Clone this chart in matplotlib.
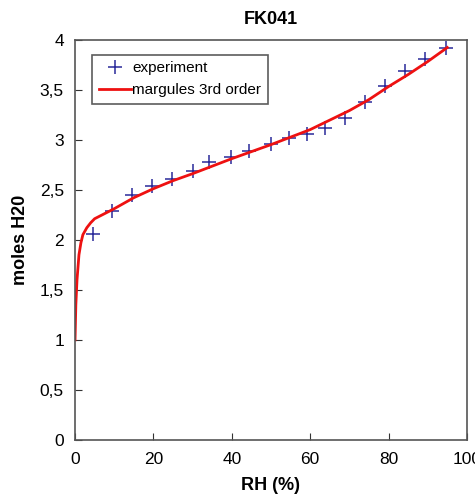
import numpy as np
import matplotlib
matplotlib.use('Agg')
import matplotlib.pyplot as plt
from matplotlib.ticker import FuncFormatter

plt.rcParams['font.family'] = ['Liberation Sans', 'DejaVu Sans']

# experiment points
rh_exp = [4.5, 9.5, 14.6, 19.7, 24.7, 30.0, 34.3, 39.7, 44.5, 49.9,
          54.7, 59.1, 63.7, 69.0, 74.1, 79.2, 84.1, 89.2, 94.7]
moles_exp = [2.06, 2.29, 2.45, 2.54, 2.61, 2.69, 2.78, 2.83, 2.89, 2.96,
             3.02, 3.06, 3.12, 3.22, 3.38, 3.54, 3.69, 3.81, 3.92]

# margules 3rd order fit curve
rh_fit = [0, 0.2, 0.5, 1, 1.5, 2, 3, 4, 5, 7, 10, 15, 20, 25, 30, 40,
          50, 60, 70, 75, 80, 85, 90, 95]
moles_fit = [1.0, 1.35, 1.6, 1.85, 1.97, 2.05, 2.12, 2.17, 2.21, 2.25,
             2.31, 2.42, 2.51, 2.59, 2.66, 2.81, 2.95, 3.10, 3.29, 3.40,
             3.53, 3.65, 3.78, 3.92]

fig = plt.figure(figsize=(4.75, 5.0), dpi=100)
ax = fig.add_axes([0.158, 0.12, 0.825, 0.801])

ax.plot(rh_exp, moles_exp, linestyle='none', marker='+', markersize=10,
        markeredgewidth=1.1, color='#2a2a9a', label='experiment')
ax.plot(rh_fit, moles_fit, color='#ee1111', linewidth=2, label='margules 3rd order')

ax.set_xlim(0, 100)
ax.set_ylim(0, 4)
ax.set_xticks([0, 20, 40, 60, 80, 100])
ax.set_yticks(np.arange(0, 4.01, 0.5))
ax.yaxis.set_major_formatter(FuncFormatter(lambda v, p: ('%g' % v).replace('.', ',')))
ax.tick_params(direction='in', length=5, labelsize=12.5, colors='#333333', labelcolor='black')
ax.tick_params(axis='x', pad=9)
ax.tick_params(axis='y', pad=8)
for s in ax.spines.values():
    s.set_color('#555555')
    s.set_linewidth(1.2)

ax.set_title('FK041', fontsize=13, fontweight='bold', pad=11)
ax.set_xlabel('RH (%)', fontsize=13, fontweight='bold', labelpad=7)
ax.set_ylabel('moles H20', fontsize=13, fontweight='bold', labelpad=8)

leg = ax.legend(loc='upper left', bbox_to_anchor=(0.035, 0.97), fontsize=11,
                frameon=True, fancybox=False, handlelength=2.1,
                borderpad=0.45, labelspacing=0.5, handletextpad=0.1,
                borderaxespad=0.2)
leg.get_frame().set_edgecolor('#333333')
leg.get_frame().set_linewidth(1.2)

fig.savefig('out.png', dpi=100)
